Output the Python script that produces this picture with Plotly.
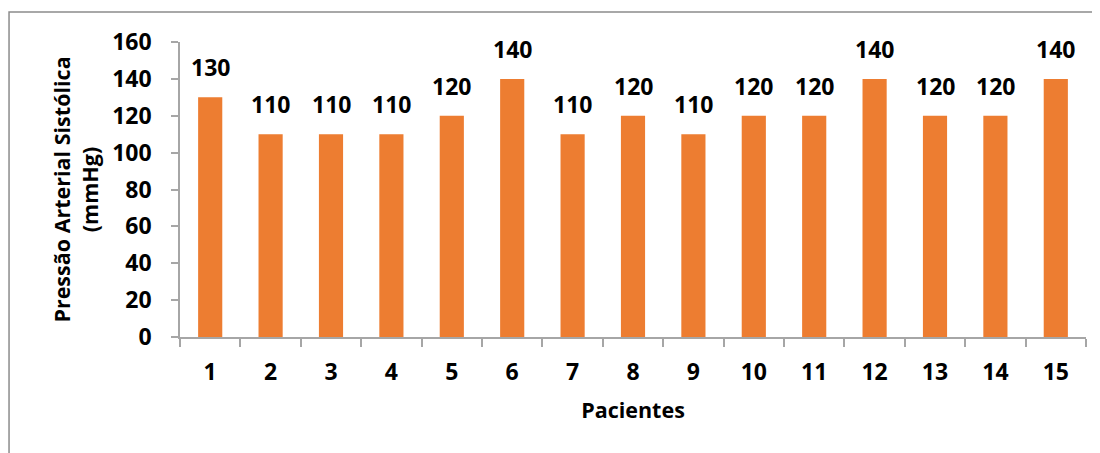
import plotly.graph_objects as go

pacientes = [str(i) for i in range(1, 16)]
pressao = [130, 110, 110, 110, 120, 140, 110, 120, 110, 120, 120, 140, 120, 120, 140]

FONT = "Open Sans"
fig = go.Figure()
fig.add_trace(go.Bar(x=pacientes, y=pressao, marker_color="#ED7D31",
                     marker_line_width=0, width=0.4))

for i, v in enumerate(pressao):
    fig.add_annotation(x=i, y=v, text=f"<b>{v}</b>", showarrow=False,
                       yanchor="bottom", yshift=12,
                       font=dict(family=FONT, size=23, color="black"))

fig.update_layout(
    width=1100, height=453,
    margin=dict(l=172, r=22, t=34, b=124),
    plot_bgcolor="white", paper_bgcolor="white",
    showlegend=False,
    font=dict(family=FONT, color="black"),
    shapes=[dict(type="rect", xref="paper", yref="paper",
                 x0=-0.1887, x1=1.2, y0=-0.5, y1=1.1017,
                 line=dict(color="#8c8c8c", width=1.5), layer="below")],
)
fig.update_xaxes(type="category", range=[-0.5, 14.5], automargin=False,
                 showline=True, linecolor="#a6a6a6", linewidth=1.5,
                 ticks="outside", ticklen=8, tickcolor="#a6a6a6", tickwidth=1.5,
                 tickson="boundaries", ticklabelstandoff=14,
                 tickfont=dict(family=FONT, size=23, color="black", weight="bold"),
                 title=dict(text="<b>Pacientes</b>", font=dict(family=FONT, size=21.5), standoff=17))
fig.update_yaxes(range=[0, 160], dtick=20, showgrid=False, zeroline=False, automargin=False,
                 showline=True, linecolor="#a6a6a6", linewidth=1.5,
                 ticks="outside", ticklen=7, tickcolor="#a6a6a6", tickwidth=1.5,
                 ticklabelstandoff=15,
                 tickfont=dict(family=FONT, size=23, color="black", weight="bold"),
                 title=dict(text="<b>Pressão Arterial Sistólica<br>(mmHg)</b>",
                            font=dict(family=FONT, size=21.5), standoff=8))

fig.write_html("out.html")
